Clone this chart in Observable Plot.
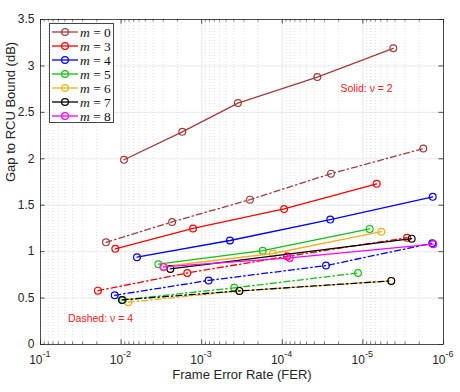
<!DOCTYPE html>
<html><head><meta charset="utf-8">
<script src="https://cdn.jsdelivr.net/npm/d3@7"></script>
<script src="https://cdn.jsdelivr.net/npm/@observablehq/plot@0.6"></script>
<style>
body{margin:0;background:#fff;}
#wrap{position:relative;width:460px;height:392px;}
#legend{position:absolute;left:49px;top:23px;width:65px;height:100px;border:1px solid #444;background:#fff;box-sizing:border-box;}
</style>
</head><body><div id="wrap"></div>
<script>
// ---- data (FER, gap in dB) ----
const seriesNames = ["m = 0","m = 3","m = 4","m = 5","m = 6","m = 7","m = 8"];
const seriesColors = ["#a33c3c","#ff0000","#0000ff","#12c012","#edb120","#000000","#ff00ff"];
const tickLabelsX = [-1,-2,-3,-4,-5,-6];
const tickValuesY = [0,0.5,1,1.5,2,2.5,3,3.5];

// Solid: nu = 2
const m0_nu2_fer = [9.2e-3, 1.74e-3, 3.55e-4, 3.68e-5, 4.2e-6];
const m0_nu2_gap = [1.99, 2.29, 2.60, 2.88, 3.19];
const m3_nu2_fer = [1.18e-2, 1.28e-3, 9.5e-5, 6.75e-6];
const m3_nu2_gap = [1.03, 1.25, 1.46, 1.73];
const m4_nu2_fer = [6.35e-3, 4.46e-4, 2.54e-5, 1.36e-6];
const m4_nu2_gap = [0.94, 1.12, 1.345, 1.59];
const m5_nu2_fer = [3.45e-3, 1.75e-4, 8.24e-6];
const m5_nu2_gap = [0.865, 1.01, 1.245];
const m6_nu2_fer = [2.95e-3, 1.31e-4, 5.9e-6];
const m6_nu2_gap = [0.84, 0.98, 1.215];
const m7_nu2_fer = [2.45e-3, 2.48e-6];
const m7_nu2_gap = [0.814, 1.14];
const m8_nu2_fer = [2.99e-3, 8.1e-5, 1.34e-6];
const m8_nu2_gap = [0.835, 0.932, 1.08];

// Dashed: nu = 4
const m0_nu4_fer = [1.54e-2, 2.33e-3, 2.52e-4, 2.49e-5, 1.78e-6];
const m0_nu4_gap = [1.10, 1.32, 1.56, 1.84, 2.11];
const m3_nu4_fer = [1.94e-2, 1.51e-3, 8.7e-5, 2.83e-6];
const m3_nu4_gap = [0.58, 0.77, 0.95, 1.15];
const m4_nu4_fer = [1.20e-2, 8.2e-4, 2.87e-5, 1.38e-6];
const m4_nu4_gap = [0.53, 0.69, 0.85, 1.09];
const m5_nu4_fer = [9.5e-3, 3.95e-4, 1.15e-5];
const m5_nu4_gap = [0.48, 0.61, 0.77];
const m6_nu4_fer = [8.15e-3, 3.41e-4, 4.45e-6];
const m6_nu4_gap = [0.455, 0.577, 0.685];
const m7_nu4_fer = [9.75e-3, 3.41e-4, 4.45e-6];
const m7_nu4_gap = [0.48, 0.577, 0.685];

const solidFer = [m0_nu2_fer,m3_nu2_fer,m4_nu2_fer,m5_nu2_fer,m6_nu2_fer,m7_nu2_fer,m8_nu2_fer];
const solidGap = [m0_nu2_gap,m3_nu2_gap,m4_nu2_gap,m5_nu2_gap,m6_nu2_gap,m7_nu2_gap,m8_nu2_gap];
const dashFer = [m0_nu4_fer,m3_nu4_fer,m4_nu4_fer,m5_nu4_fer,m6_nu4_fer,m7_nu4_fer];
const dashGap = [m0_nu4_gap,m3_nu4_gap,m4_nu4_gap,m5_nu4_gap,m6_nu4_gap,m7_nu4_gap];

function rows(ferArr, gapArr, i, style){
  return ferArr.map((f,k)=>({fer:f, gap:gapArr[k], s:seriesNames[i], style}));
}
const series = [];
dashFer.forEach((f,i)=>series.push({color:seriesColors[i], dash:true, data:rows(f,dashGap[i],i,"dash")}));
solidFer.forEach((f,i)=>series.push({color:seriesColors[i], dash:false, data:rows(f,solidGap[i],i,"solid")}));

const majorX = tickLabelsX.map(e=>Math.pow(10,e));
const minorX = [];
for (let e=-6;e<-1;e++) for (let k=2;k<=9;k++) minorX.push(k*Math.pow(10,e));

const axisColor = "#262626";
const marks = [
  Plot.ruleX(minorX, {x:d=>d, stroke:"#c8c8c8", strokeDasharray:"1,2", strokeWidth:0.6}),
  Plot.ruleX(majorX, {x:d=>d, stroke:"#e3e3e3", strokeWidth:0.8}),
  Plot.ruleY(tickValuesY, {y:d=>d, stroke:"#e3e3e3", strokeWidth:0.8}),
];
for (const s of series){
  marks.push(Plot.line(s.data, {x:"fer", y:"gap", stroke:s.color, strokeWidth:1.3,
    strokeDasharray: s.dash ? "6,3,1.5,3" : null}));
  marks.push(Plot.dot(s.data, {x:"fer", y:"gap", stroke:s.color, r:3.4, strokeWidth:1.2, fill:"none"}));
}
// ticks (inward) and frame
marks.push(
  Plot.ruleX(majorX, {x:d=>d, y1:0, y2:0.05, stroke:axisColor, strokeWidth:0.8}),
  Plot.ruleX(majorX, {x:d=>d, y1:3.5, y2:3.45, stroke:axisColor, strokeWidth:0.8}),
  Plot.ruleX(minorX, {x:d=>d, y1:0, y2:0.027, stroke:axisColor, strokeWidth:0.6}),
  Plot.ruleX(minorX, {x:d=>d, y1:3.5, y2:3.473, stroke:axisColor, strokeWidth:0.6}),
  Plot.ruleY(tickValuesY, {y:d=>d, x1:1e-1, x2:0.088, stroke:axisColor, strokeWidth:0.8}),
  Plot.ruleY(tickValuesY, {y:d=>d, x1:1e-6, x2:1.14e-6, stroke:axisColor, strokeWidth:0.8}),
  Plot.frame({stroke:axisColor, strokeWidth:0.8}),
  Plot.text(tickValuesY, {x:1e-1, y:d=>d, text:d=>String(d), textAnchor:"end", dx:-6, fontSize:12, fill:axisColor}),
  Plot.text(majorX, {x:d=>d, y:0, text:d=>"10", textAnchor:"end", dx:2, dy:16, fontSize:12, fill:axisColor}),
  Plot.text(majorX, {x:d=>d, y:0, text:d=>String(Math.round(Math.log10(d))), textAnchor:"start", dx:2, dy:10, fontSize:9, fill:axisColor}),
  Plot.text(["Frame Error Rate (FER)"], {frameAnchor:"bottom", dy:34, fontSize:13, fill:axisColor}),
  Plot.text(["Gap to RCU Bound (dB)"], {frameAnchor:"left", rotate:-90, dx:-30, fontSize:13, fill:axisColor}),
  Plot.text(["Solid: ν = 2"], {x:[9e-6], y:[2.76], fontSize:10.5, fill:"#ff2020"}),
  Plot.text(["Dashed: ν = 4"], {x:[1.8e-2], y:[0.275], fontSize:10.5, fill:"#ff2020"})
);

const chart = Plot.plot({
  width:460, height:392,
  marginTop:19, marginBottom:48, marginLeft:40, marginRight:17,
  x:{type:"log", domain:[1e-1,1e-6], axis:null},
  y:{domain:[0,3.5], axis:null},
  style:{fontFamily:"'Liberation Sans', Arial, sans-serif", background:"white"},
  marks
});
const wrap = document.getElementById("wrap");
wrap.appendChild(chart);

// legend
const leg = document.createElement("div");
leg.id = "legend";
const NS = "http://www.w3.org/2000/svg";
const svg = document.createElementNS(NS,"svg");
svg.setAttribute("width","63"); svg.setAttribute("height","98");
seriesNames.forEach((name,i)=>{
  const y = 8 + i*14;
  const ln = document.createElementNS(NS,"line");
  ln.setAttribute("x1",2); ln.setAttribute("x2",28); ln.setAttribute("y1",y); ln.setAttribute("y2",y);
  ln.setAttribute("stroke",seriesColors[i]); ln.setAttribute("stroke-width",1.3);
  svg.appendChild(ln);
  const c = document.createElementNS(NS,"circle");
  c.setAttribute("cx",15); c.setAttribute("cy",y); c.setAttribute("r",3.4);
  c.setAttribute("fill","none"); c.setAttribute("stroke",seriesColors[i]); c.setAttribute("stroke-width",1.2);
  svg.appendChild(c);
  const t = document.createElementNS(NS,"text");
  t.setAttribute("x",30); t.setAttribute("y",y+4.5);
  t.setAttribute("font-family","'Liberation Serif','DejaVu Serif',serif");
  t.setAttribute("font-size","13.5");
  t.setAttribute("fill","#111");
  const parts = name.split(" = ");
  const t1 = document.createElementNS(NS,"tspan"); t1.setAttribute("font-style","italic"); t1.textContent = parts[0];
  const t2 = document.createElementNS(NS,"tspan"); t2.textContent = " = " + parts[1];
  t.appendChild(t1); t.appendChild(t2);
  svg.appendChild(t);
});
leg.appendChild(svg);
wrap.appendChild(leg);
</script>
</body></html>
